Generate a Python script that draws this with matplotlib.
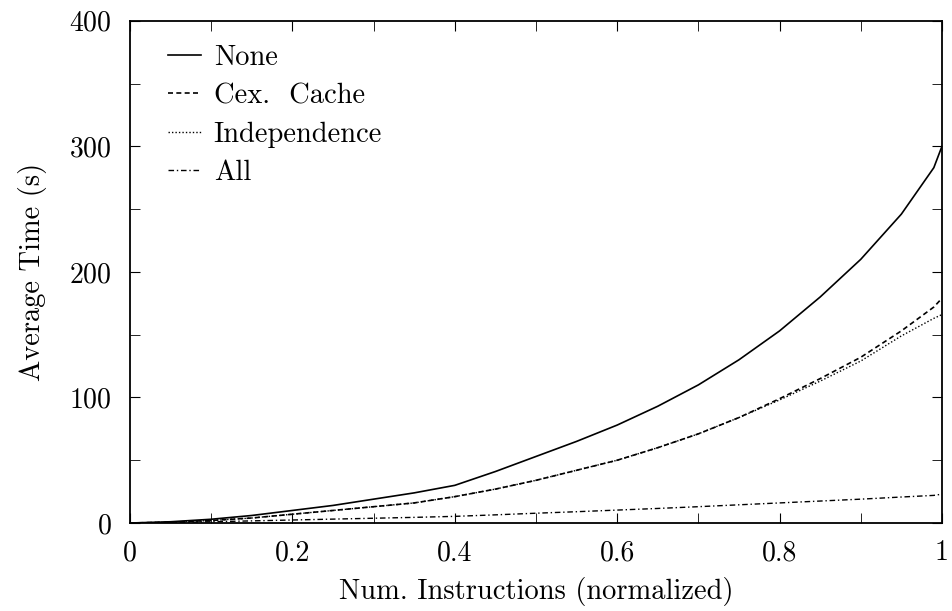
import numpy as np
import matplotlib.pyplot as plt
from matplotlib.ticker import MultipleLocator, FixedLocator

plt.rcParams['font.family'] = 'serif'
plt.rcParams['font.serif'] = ['cmr10', 'DejaVu Serif']
plt.rcParams['mathtext.fontset'] = 'cm'
plt.rcParams['axes.formatter.use_mathtext'] = True

# values
x = [0.0, 0.05, 0.1, 0.15, 0.2, 0.25, 0.3, 0.35, 0.4, 0.45, 0.5, 0.55, 0.6,
     0.65, 0.7, 0.75, 0.8, 0.85, 0.9, 0.95, 0.99, 1.0]
none = [0, 1, 3, 6, 10, 14, 19, 24, 30, 41, 53, 65, 78, 93, 110, 130, 153, 180,
        210, 246, 283, 300]
cex_cache = [0, 0.7, 2, 4, 7, 10, 13, 16, 21, 27, 34, 42, 50, 60, 71, 84, 99, 115,
             132, 153, 172, 179]
independence = [0, 0.7, 2, 4, 7, 10, 13, 16, 21, 27, 34, 42, 50, 60, 71, 84, 98, 113,
                129, 149, 163, 166]
all_opt = [0, 0.3, 1, 1.7, 2.4, 3.1, 3.8, 4.5, 5.3, 6.5, 7.8, 9, 10.3, 11.6, 13,
           14.5, 16, 17.5, 19, 20.7, 22, 23]

fig = plt.figure(figsize=(9.53, 6.11), dpi=100)
ax = fig.add_axes([0.1364, 0.144, 0.852, 0.822])

ax.plot(x, none, color='black', lw=1.2, ls='-', label='None')
ax.plot(x, cex_cache, color='black', lw=1.2, ls=(0, (3, 2)), label='Cex.  Cache')
ax.plot(x, independence, color='black', lw=1.0, ls=(0, (1, 1.5)), label='Independence')
ax.plot(x, all_opt, color='black', lw=1.0, ls=(0, (4, 2, 1, 2)), label='All')

ax.set_xlim(0, 1)
ax.set_ylim(0, 400)
ax.xaxis.set_major_locator(FixedLocator([0, 0.2, 0.4, 0.6, 0.8, 1.0]))
ax.set_xticklabels(['0', '0.2', '0.4', '0.6', '0.8', '1'])
ax.xaxis.set_minor_locator(MultipleLocator(0.1))
ax.yaxis.set_major_locator(MultipleLocator(100))
ax.yaxis.set_minor_locator(MultipleLocator(50))
ax.tick_params(which='both', direction='in', top=True, right=True, labelsize=20,
               length=7)
ax.tick_params(axis='y', pad=13)
ax.tick_params(axis='x', pad=12)
for s in ax.spines.values():
    s.set_linewidth(1.3)

ax.set_xlabel('Num. Instructions (normalized)', fontsize=20.5, labelpad=8)
ax.set_ylabel('Average Time (s)', fontsize=20.5, labelpad=16)

ax.legend(loc='upper left', frameon=False, fontsize=20.5, handlelength=1.15,
          handletextpad=0.45, labelspacing=0.42, borderaxespad=0,
          bbox_to_anchor=(0.033, 0.975))

fig.savefig('out.png', dpi=100)
